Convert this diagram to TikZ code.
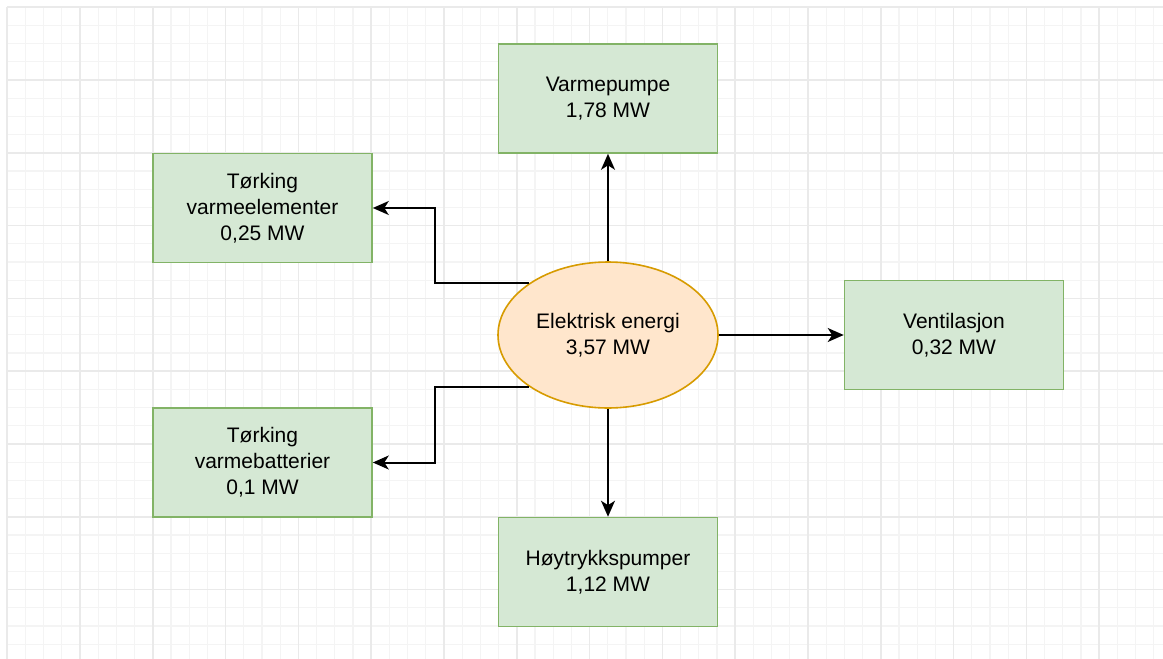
\documentclass[tikz,border=0pt]{standalone}
\usepackage{fontspec}
\setmainfont{Liberation Sans}
\usetikzlibrary{arrows.meta,shapes.geometric}
\definecolor{boxfill}{HTML}{D5E8D4}
\definecolor{boxline}{HTML}{82B366}
\definecolor{ellfill}{HTML}{FFE6CC}
\definecolor{ellline}{HTML}{D79B00}
\definecolor{gridminor}{HTML}{F4F4F4}
\definecolor{gridmajor}{HTML}{EAEAEA}
\begin{document}
\begin{tikzpicture}[x=1pt,y=-1pt,
  txt/.style={align=center, font=\fontsize{21}{26}\selectfont, inner sep=0pt},
  blk/.style={txt, draw=boxline, fill=boxfill, line width=1.6pt, minimum width=219pt, minimum height=109pt},
  src/.style={txt, ellipse, draw=ellline, fill=ellfill, line width=1.6pt, minimum width=220pt, minimum height=146pt},
  conn/.style={line width=2pt, -{Stealth[length=16pt,width=14pt,inset=4.5pt]}},
  minorline/.style={gridminor, line width=1.2pt},
  majorline/.style={gridmajor, line width=1.5pt}]
\useasboundingbox (0,0) rectangle (1163,659);
\fill[white] (0,0) rectangle (1163,659);
% grid
\foreach \i in {0,...,63} {\pgfmathsetmacro\xx{7.2+18.2*\i}\draw[minorline] (\xx,7.2) -- (\xx,659);}
\foreach \j in {0,...,35} {\pgfmathsetmacro\yy{7.2+18.2*\j}\draw[minorline] (7.2,\yy) -- (1163,\yy);}
\foreach \i in {0,...,15} {\pgfmathsetmacro\xx{7.2+72.8*\i}\draw[majorline] (\xx,7.2) -- (\xx,659);}
\foreach \j in {0,...,8} {\pgfmathsetmacro\yy{7.2+72.8*\j}\draw[majorline] (7.2,\yy) -- (1163,\yy);}
% nodes
\node[src] (e) at (608,335) {Elektrisk energi\\3,57 MW};
\node[blk] (vp) at (608,98.5) {Varmepumpe\\1,78 MW};
\node[blk] (tve) at (262.5,208) {Tørking\\varmeelementer\\0,25 MW};
\node[blk] (tvb) at (262.5,462.5) {Tørking\\varmebatterier\\0,1 MW};
\node[blk] (ven) at (954,335) {Ventilasjon\\0,32 MW};
\node[blk] (hp) at (608,572) {Høytrykkspumper\\1,12 MW};
\coordinate (jl) at (435,0);
% connectors
\draw[conn] (e.north) -- (vp.south);
\draw[conn] (e.south) -- (hp.north);
\draw[conn] (e.east) -- (ven.west);
\draw[conn] (e.147) -- (jl |- e.147) -- (jl |- tve.east) -- (tve.east);
\draw[conn] (e.213) -- (jl |- e.213) -- (jl |- tvb.east) -- (tvb.east);
\end{tikzpicture}
\end{document}
